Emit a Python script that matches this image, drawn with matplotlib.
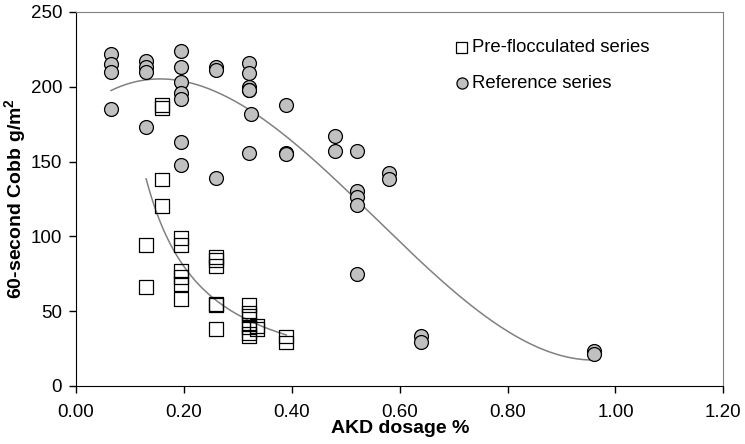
import numpy as np
import matplotlib
matplotlib.use("Agg")
import matplotlib.pyplot as plt

plt.rcParams['font.family'] = ['Liberation Sans', 'DejaVu Sans']

# Pre-flocculated series (open squares)
pre_x = [0.13, 0.13,
         0.16, 0.16, 0.16, 0.16,
         0.195, 0.195, 0.195, 0.195, 0.195, 0.195,
         0.26, 0.26, 0.26, 0.26, 0.26, 0.26,
         0.32, 0.32, 0.32, 0.32, 0.32, 0.32, 0.32, 0.335, 0.335,
         0.39, 0.39]
pre_y = [94, 66,
         188, 186, 138, 120,
         99, 94, 77, 73, 68, 58,
         86, 84, 80, 55, 54, 38,
         54, 49, 47, 41, 39, 35, 33, 40, 38,
         33, 29]

# Reference series (grey circles)
ref_x = [0.065, 0.065, 0.065, 0.065,
         0.13, 0.13, 0.13, 0.13,
         0.195, 0.195, 0.195, 0.195, 0.195, 0.195, 0.195,
         0.26, 0.26, 0.26,
         0.32, 0.32, 0.32, 0.32, 0.32, 0.325, 0.32,
         0.39, 0.39, 0.39,
         0.48, 0.48,
         0.52, 0.52, 0.52, 0.52, 0.52,
         0.58, 0.58,
         0.64, 0.64,
         0.96, 0.96]
ref_y = [222, 215, 210, 185,
         217, 213, 210, 173,
         224, 213, 203, 196, 192, 163, 148,
         213, 211, 139,
         216, 209, 200, 198, 198, 182, 156,
         188, 156, 155,
         167, 157,
         157, 130, 126, 121, 75,
         142, 138,
         33, 29,
         23, 21]

fig = plt.figure(figsize=(7.45, 4.44), dpi=100)
ax = fig.add_axes([0.102, 0.131, 0.869, 0.842])

# trendlines: cubic polynomial for reference, power law for pre-flocculated
ref_coef = np.polyfit(ref_x, ref_y, 3)
xr = np.linspace(min(ref_x), max(ref_x), 200)
ax.plot(xr, np.polyval(ref_coef, xr), color='#808080', lw=1.1, zorder=1)

b, ln_a = np.polyfit(np.log(pre_x), np.log(pre_y), 1)
xp = np.linspace(min(pre_x), max(pre_x), 200)
ax.plot(xp, np.exp(ln_a) * xp ** b, color='#808080', lw=1.1, zorder=1)

ax.scatter(pre_x, pre_y, marker='s', s=100, facecolors='none',
           edgecolors='black', linewidths=0.9, zorder=3,
           label='Pre-flocculated series')
ax.scatter(ref_x, ref_y, marker='o', s=100, facecolors='#c0c0c0',
           edgecolors='black', linewidths=0.9, zorder=2,
           label='Reference series')

ax.set_xlim(0, 1.2)
ax.set_ylim(0, 250)
ax.set_xticks(np.arange(0, 1.21, 0.2))
ax.set_xticklabels([f"{v:.2f}" for v in np.arange(0, 1.21, 0.2)])
ax.set_yticks(range(0, 251, 50))
ax.tick_params(direction='out', length=5, width=1, labelsize=13.5,
               colors='black')
ax.tick_params(axis='x', pad=8)
ax.tick_params(axis='y', pad=5)
for s in ['top', 'right']:
    ax.spines[s].set_color('#808080')
for s in ['left', 'bottom']:
    ax.spines[s].set_color('black')

ax.set_xlabel('AKD dosage %', fontsize=14, fontweight='bold', labelpad=-1)
ax.set_ylabel('60-second Cobb g/m$^\\mathregular{2}$', fontsize=14,
              fontweight='bold', labelpad=1)

ax.legend(loc='upper left', bbox_to_anchor=(0.570, 0.947), frameon=False,
          fontsize=13.3, handletextpad=0.05, markerscale=0.8,
          labelspacing=1.02, borderaxespad=0, handlelength=1.0)

fig.savefig('out.png', dpi=100)
